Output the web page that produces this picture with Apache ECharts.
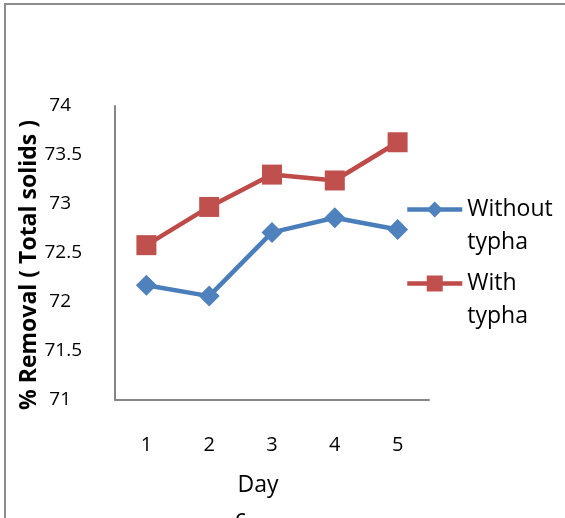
<!DOCTYPE html>
<html>
<head>
<meta charset="utf-8">
<script src="https://cdn.jsdelivr.net/npm/echarts@6/dist/echarts.min.js"></script>
<style>
html,body{margin:0;padding:0;background:#fff;}
#chart{width:565px;height:518px;}
</style>
</head>
<body>
<div id="chart"></div>
<script>
var days = ['1', '2', '3', '4', '5'];
var withoutTypha = [72.17, 72.06, 72.71, 72.86, 72.74];
var withTypha = [72.58, 72.97, 73.30, 73.24, 73.63];
var seriesNames = ['Without typha', 'With typha'];
var yAxisName = '% Removal ( Total solids )';
var xAxisName = 'Day';

var FONT = '"Open Sans", sans-serif';
var chart = echarts.init(document.getElementById('chart'), null, {renderer: 'canvas'});

function legendFmt(name) {
  return '\n' + name.replace(' ', '\n');
}
var legendText = {fontFamily: FONT, fontSize: 23, color: '#000', lineHeight: 33};

chart.setOption({
  animation: false,
  backgroundColor: '#fff',
  textStyle: {fontFamily: FONT, color: '#000'},
  graphic: [
    {type: 'rect', shape: {x: 5, y: 4, width: 700, height: 700}, style: {fill: 'none', stroke: '#8c8c8c', lineWidth: 2}, silent: true},
    {type: 'text', left: 235, top: 508, style: {text: 'c', font: '23px "Open Sans", sans-serif', fill: '#000'}, silent: true}
  ],
  grid: {left: 115, top: 106, right: 136, bottom: 118, containLabel: false},
  legend: [
    {
      data: [seriesNames[0]], left: 405, top: 160, orient: 'vertical', padding: 0,
      itemWidth: 55, itemHeight: 20, formatter: legendFmt,
      lineStyle: {width: 4.5}, textStyle: legendText
    },
    {
      data: [seriesNames[1]], left: 405, top: 234, orient: 'vertical', padding: 0,
      itemWidth: 55, itemHeight: 20, formatter: legendFmt,
      lineStyle: {width: 4.5}, textStyle: legendText
    }
  ],
  xAxis: {
    type: 'category', data: days, boundaryGap: true,
    name: xAxisName, nameLocation: 'middle', nameGap: 74, nameMoveOverlap: false,
    nameTextStyle: {fontFamily: FONT, fontSize: 23, color: '#000', padding: [0, 28, 0, 0]},
    axisLine: {lineStyle: {color: '#868686', width: 2}},
    axisTick: {show: false},
    axisLabel: {margin: 35, fontFamily: FONT, fontSize: 20, color: '#000'},
    splitLine: {show: false}
  },
  yAxis: {
    type: 'value', min: 71, max: 74, interval: 0.5,
    name: yAxisName, nameLocation: 'middle', nameGap: 74, nameMoveOverlap: false,
    nameTextStyle: {fontFamily: FONT, fontSize: 23, fontWeight: 'bold', color: '#000', padding: [0, 24, 0, 0]},
    axisLine: {show: true, lineStyle: {color: '#868686', width: 2}},
    axisTick: {show: false},
    splitLine: {show: false},
    axisLabel: {
      margin: 33, fontFamily: FONT, fontSize: 19, color: '#000',
      formatter: function (v) {
        return (Math.abs(v - Math.round(v)) < 1e-9) ? (String(Math.round(v)) + '{p| }') : String(v);
      },
      rich: {p: {width: 11, fontSize: 19}}
    }
  },
  series: [
    {
      name: seriesNames[0], type: 'line', data: withoutTypha,
      symbol: 'diamond', symbolSize: [21, 21],
      lineStyle: {color: '#4A7EBB', width: 4.5},
      itemStyle: {color: '#4F81BD'},
      emphasis: {disabled: true}
    },
    {
      name: seriesNames[1], type: 'line', data: withTypha,
      symbol: 'rect', symbolSize: 20,
      lineStyle: {color: '#BE4B48', width: 4.5},
      itemStyle: {color: '#C0504D'},
      emphasis: {disabled: true}
    }
  ]
});
</script>
</body>
</html>
